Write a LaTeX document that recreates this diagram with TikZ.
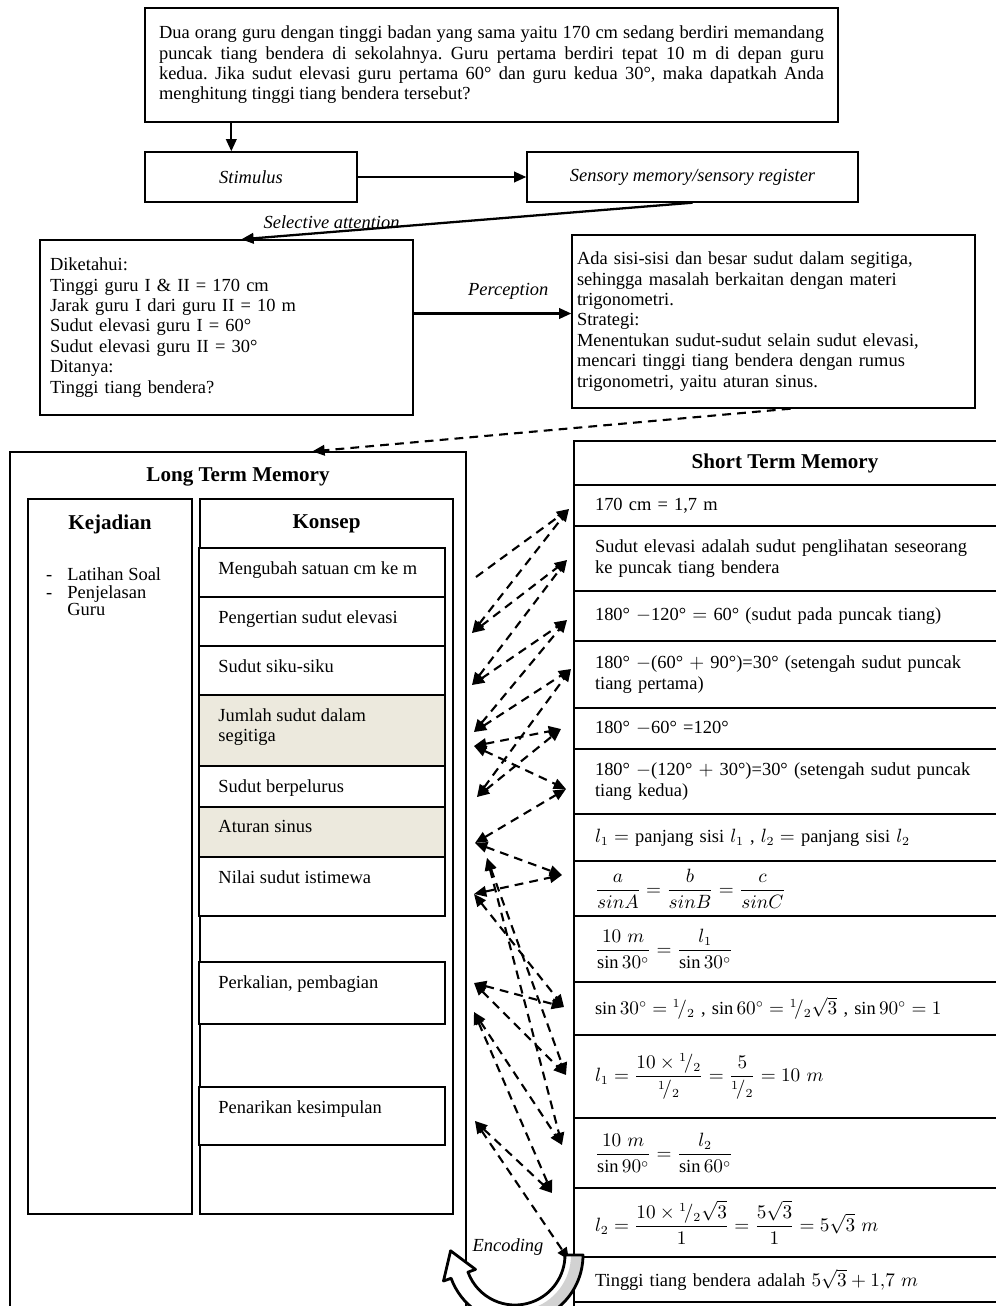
\documentclass[tikz,border=0pt]{standalone}
\usepackage{fontspec}
\setmainfont{Liberation Serif}
\usepackage{amsmath}
\usetikzlibrary{arrows.meta,positioning,calc}
\definecolor{shadebg}{RGB}{236,233,221}
\frenchspacing

\begin{document}
\begin{tikzpicture}[
  x=0.02cm, y=-0.02cm,
  >={Triangle[length=7pt,width=6pt]},
  every node/.style={font=\fontsize{10.5}{11.6}\selectfont},
  box/.style={draw,line width=0.8pt,inner sep=0},
  it/.style={font=\fontsize{10.5}{11.6}\selectfont\itshape},
  title/.style={font=\fontsize{12}{14}\selectfont\bfseries},
  arr/.style={->,line width=1.3pt},
  dashline/.style={line width=1.2pt,dash pattern=on 5pt off 3.5pt},
  konsep/.style={draw,line width=0.9pt,minimum width=4.92cm},
  srow/.style={draw,line width=0.9pt,minimum width=8.46cm,text width=7.62cm,inner xsep=0.42cm,inner ysep=1pt,align=left},
]
  \useasboundingbox (0,0) rectangle (995,1306);

  % problem, stimulus, sensory register
  \node[box,minimum width=13.86cm,minimum height=2.28cm,text width=13.3cm,align=justify] (soal) at (491.5,65)
    {Dua orang guru dengan tinggi badan yang sama yaitu 170 cm sedang berdiri memandang\linebreak
     puncak tiang bendera di sekolahnya. Guru pertama berdiri tepat 10 m di depan guru\linebreak
     kedua. Jika sudut elevasi guru pertama 60° dan guru kedua 30°, maka dapatkah Anda\linebreak
     menghitung tinggi tiang bendera tersebut?};
  \node[box,it,minimum width=4.24cm,minimum height=1cm] (stim) at (251,177) {Stimulus};
  \node[box,it,minimum width=6.62cm,minimum height=1cm] (sens) at (692.5,177) {Sensory memory/sensory register};
  \coordinate (c1) at ($(stim.north west)+(87,0)$);
  \draw[arr] (c1 |- soal.south) -- (c1);
  \draw[arr] (stim) -- (sens);

  % perception
  \node[box,text width=7.06cm,minimum width=7.46cm,minimum height=3.5cm,align=left,inner xsep=0.2cm] (dik) at (226.5,327.5)
    {Diketahui:\\Tinggi guru I \& II = 170 cm\\Jarak guru I dari guru II = 10 m\\Sudut elevasi guru I = 60°\\
     Sudut elevasi guru II = 30°\\Ditanya:\\Tinggi tiang bendera?};
  \node[box,text width=7.86cm,minimum width=8.06cm,minimum height=3.46cm,align=left,inner xsep=0.1cm] (ada) at (773.5,321.5)
    {Ada sisi-sisi dan besar sudut dalam segitiga,\\sehingga masalah berkaitan dengan materi\\trigonometri.\\Strategi:\\
     Menentukan sudut-sudut selain sudut elevasi,\\mencari tinggi tiang bendera dengan rumus\\trigonometri, yaitu aturan sinus.};
  \draw[arr] (sens.south) -- ($(dik.north west)+(202,0)$) node[pos=0.8,above,inner sep=1pt,it] {Selective attention};
  \coordinate (p0) at ($(dik.east)+(0,-14)$);
  \draw[arr] (p0) -- (p0 -| ada.west) node[pos=0.6,above=4pt,it] {Perception};

  % long term memory
  \node[box,minimum width=9.12cm,minimum height=17.56cm] (ltm) at (238,891) {};
  \node[title] (ltmt) at (238,477) {Long Term Memory};
  \node[box,minimum width=3.28cm,minimum height=14.3cm] (kej) at (110,856.5) {};
  \node[title] (kejt) at (110,524) {Kejadian};
  \node[anchor=north west] (kejl) at (40,561)
    {\renewcommand\arraystretch{0.86}\begin{tabular}{@{}l@{\hspace{0.3cm}}l@{}}-&Latihan Soal\\-&Penjelasan\\&Guru\end{tabular}};
  \node[box,minimum width=5.06cm,minimum height=14.3cm] (kon) at (326.5,856.5) {};
  \node[title] (kont) at (326.5,524) {Konsep};
  \foreach \nm/\ya/\yb/\clr/\txt in {
      ubah/548/597/white/{Mengubah satuan cm ke m},
      elev/597/646/white/{Pengertian sudut elevasi},
      siku/646/695/white/{Sudut siku-siku},
      jml/695/766/shadebg/{Jumlah sudut dalam\\segitiga},
      lurus/766/807/white/{Sudut berpelurus},
      sinus/807/857/shadebg/{Aturan sinus},
      istw/857/916/white/{Nilai sudut istimewa},
      kali/962/1024/white/{Perkalian, pembagian},
      simp/1087/1145/white/{Penarikan kesimpulan}} {
    \pgfmathsetmacro{\yc}{(\ya+\yb)/2}
    \pgfmathsetmacro{\hh}{(\yb-\ya)*0.02}
    \node[konsep,fill=\clr,minimum height=\hh cm] (\nm) at (322,\yc) {};
    \node[anchor=north west,align=left] (\nm-t) at ($(\nm.north west)+(14,8)$) {\txt};
  }

  % short term memory
  \node[box,minimum width=8.46cm,minimum height=17.78cm] (stm) at (785.5,885.5) {};
  \node[title] (stmt) at (785,463) {Short Term Memory};
  \foreach \i/\ya/\yb/\txt in {
      1/485/526/{170 cm = 1,7 m},
      2/526/591/{Sudut elevasi adalah sudut penglihatan seseorang\\ke puncak tiang bendera},
      3/591/641/{180° $-$120° $=$ 60° (sudut pada puncak tiang)},
      4/641/708/{180° $-$(60° $+$ 90°)=30° (setengah sudut puncak\\tiang pertama)},
      5/708/749/{180° $-$60° =120°},
      6/749/814/{180° $-$(120° $+$ 30°)=30° (setengah sudut puncak\\tiang kedua)},
      7/814/861/{$l_1 =$ panjang sisi $l_1$ , $l_2 =$ panjang sisi $l_2$},
      8/861/916/{$\dfrac{a}{sinA}=\dfrac{b}{sinB}=\dfrac{c}{sinC}$},
      9/916/982/{$\dfrac{10\ m}{\sin 30^\circ}=\dfrac{l_1}{\sin 30^\circ}$},
      10/982/1035/{$\sin 30^\circ = {}^1\!/_2$ , $\sin 60^\circ = {}^1\!/_2\sqrt{3}$ , $\sin 90^\circ = 1$},
      11/1035/1118/{$l_1 = \dfrac{10\times {}^1\!/_2}{{}^1\!/_2} = \dfrac{5}{{}^1\!/_2} = 10\ m$},
      12/1118/1188/{$\dfrac{10\ m}{\sin 90^\circ}=\dfrac{l_2}{\sin 60^\circ}$},
      13/1188/1257/{$l_2 = \dfrac{10\times {}^1\!/_2\sqrt{3}}{1} = \dfrac{5\sqrt{3}}{1} = 5\sqrt{3}\ m$},
      14/1257/1302/{Tinggi tiang bendera adalah $5\sqrt{3}+1{,}7\ m$}} {
    \pgfmathsetmacro{\yc}{(\ya+\yb)/2}
    \pgfmathsetmacro{\hh}{(\yb-\ya)*0.02}
    \node[srow,minimum height=\hh cm] (s\i) at (785.5,\yc) {\txt};
  }
  \draw[dashline,->] ($(ada.south)+(17,0)$) -- ($(ltm.north west)+(303,0)$);

  % links between the two memories
  \foreach \n/\x/\y in {k0/476/577,k1/472/633,k2/472/685,k3/474/732,k4/474/746,k5/477/797,k6/475/843,
      ka/487/858,k7/474/894,k8/474/983,k9/474/1012,k10/475/1121,
      m1/569/509,m2/567/560,m3/567/620,m4/571/669,m5/561/729,m6/566/789,m7/562/875,
      m9/564/1007,m10/566/1075,m11/562/1145,m12/552/1193,m13/569/1260}
    \coordinate (\n) at (\x,\y);
  \draw[dashline,->] (k0) -- (m1);
  \foreach \a/\b in {k1/m1,k1/m2,k2/m2,k2/m3,k3/m3,k3/m4,k4/m5,k4/m6,k5/m4,k5/m5,k6/m6,k6/m7,
      k7/m7,k7/m9,k8/m9,k8/m10,ka/m10,ka/m11,k9/m11,k9/m12,k10/m12,k10/m13}
    \draw[dashline,<->] (\a) -- (\b);

  % encoding
  \fill[white] (583,1255) arc[start angle=0,end angle=160,radius=68] -- (443.5,1281) -- (450.6,1250.8)
    -- (475.5,1269.4) -- (468,1272.1) arc[start angle=160,end angle=0,radius=50] -- cycle;
  \fill[gray!35] (583,1255) arc[start angle=0,end angle=75,radius=68] -- (529.5,1309.1)
    arc[start angle=75,end angle=0,radius=56] -- cycle;
  \draw[line width=1.6pt,line join=round] (583,1255) arc[start angle=0,end angle=160,radius=68] -- (443.5,1281) -- (450.6,1250.8)
    -- (475.5,1269.4) -- (468,1272.1) arc[start angle=160,end angle=0,radius=50] -- cycle;
  \node[it] (enc) at (508,1247) {Encoding};
\end{tikzpicture}
\end{document}
